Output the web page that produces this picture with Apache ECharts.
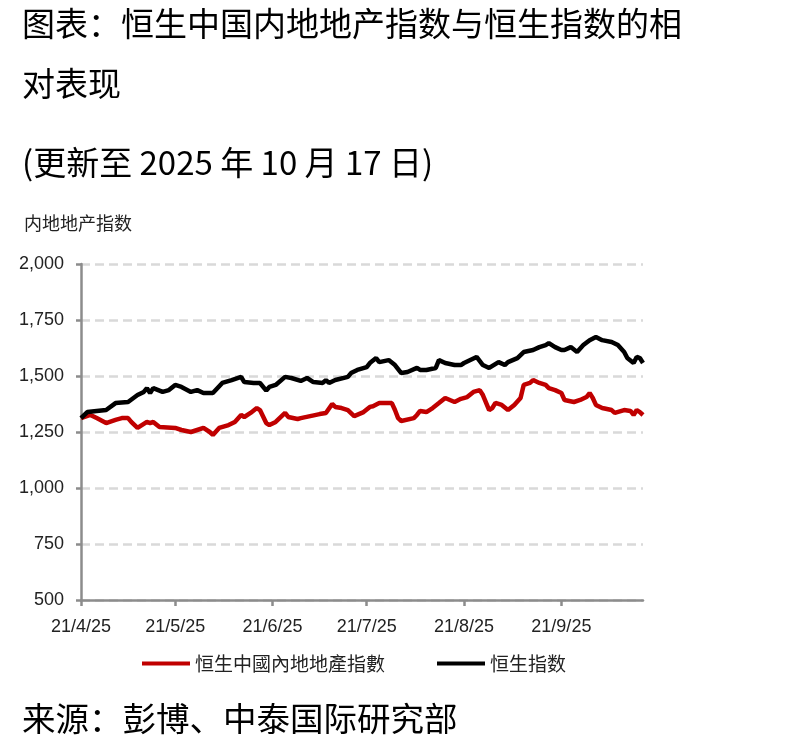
<!DOCTYPE html>
<html>
<head>
<meta charset="utf-8">
<style>
  body { margin: 0; background: #fff; }
  #main { width: 805px; height: 753px; }
</style>
</head>
<body>
<div id="main"></div>
<script src="https://cdn.jsdelivr.net/npm/echarts/dist/echarts.min.js"></script>
<script>
// 恒生中國內地地產指數
var propDates = ['04-21','04-24','04-26','04-29','05-02','05-04','05-06','05-07','05-09','05-12','05-13','05-14','05-16','05-21','05-23','05-26','05-28','05-30','06-01','06-02','06-04','06-07','06-09','06-11','06-12','06-14','06-16','06-17','06-19','06-20','06-22','06-25','06-26','06-29','06-30','07-03','07-06','07-08','07-10','07-11','07-13','07-15','07-17','07-20','07-22','07-23','07-25','07-29','07-30','07-31','08-01','08-05','08-06','08-07','08-09','08-11','08-13','08-15','08-18','08-20','08-22','08-24','08-26','08-27','08-29','08-30','08-31','09-02','09-04','09-06','09-08','09-09','09-11','09-12','09-14','09-16','09-17','09-19','09-21','09-22','09-25','09-27','09-29','09-30','10-01','10-02','10-04','10-07','10-08','10-11','10-13','10-14','10-15','10-16','10-17'];
var propValues = [1312,1326,1312,1290,1304,1312,1312,1295,1268,1295,1290,1295,1272,1268,1259,1250,1259,1268,1250,1237,1268,1281,1295,1326,1317,1335,1357,1348,1290,1281,1295,1335,1317,1308,1312,1321,1330,1335,1375,1362,1357,1348,1321,1339,1362,1365,1379,1379,1348,1312,1299,1312,1326,1344,1339,1357,1379,1402,1384,1398,1406,1429,1437,1415,1348,1357,1380,1371,1348,1371,1402,1460,1469,1482,1469,1460,1446,1437,1424,1393,1384,1393,1406,1424,1402,1371,1357,1348,1335,1348,1344,1326,1348,1339,1326];

// 恒生指数
var hsiDates = ['04-21','04-23','04-29','05-02','05-06','05-09','05-11','05-12','05-13','05-14','05-17','05-19','05-21','05-23','05-26','05-28','05-30','06-02','06-05','06-08','06-11','06-12','06-15','06-17','06-19','06-20','06-22','06-25','06-27','06-30','07-02','07-04','07-07','07-08','07-09','07-11','07-15','07-16','07-18','07-21','07-22','07-24','07-25','07-28','07-30','08-01','08-03','08-06','08-07','08-09','08-12','08-13','08-15','08-18','08-20','08-21','08-25','08-27','08-29','09-01','09-03','09-04','09-07','09-09','09-12','09-14','09-16','09-17','09-19','09-21','09-22','09-24','09-26','09-28','09-30','10-02','10-04','10-07','10-09','10-11','10-12','10-14','10-15','10-16','10-17'];
var hsiValues = [1312,1339,1348,1379,1384,1415,1429,1446,1424,1446,1429,1437,1460,1451,1429,1437,1424,1424,1469,1482,1496,1473,1469,1469,1435,1451,1460,1496,1491,1478,1491,1473,1469,1482,1469,1482,1496,1513,1527,1540,1558,1580,1562,1571,1549,1513,1518,1536,1527,1527,1536,1571,1558,1549,1549,1558,1585,1549,1536,1562,1549,1562,1580,1607,1616,1629,1638,1647,1629,1616,1616,1629,1607,1638,1660,1674,1660,1652,1638,1607,1580,1558,1585,1580,1558];

var yTicks = [500, 750, 1000, 1250, 1500, 1750, 2000];
var startDate = '2025-04-21';
var endDate = '2025-10-17';

// every calendar day on the axis, so the monthly ticks fall where they should
var days = [];
var d = new Date(startDate + 'T00:00:00Z');
var end = new Date(endDate + 'T00:00:00Z');
while (d <= end) {
  var mm = ('0' + (d.getUTCMonth() + 1)).slice(-2);
  var dd = ('0' + d.getUTCDate()).slice(-2);
  days.push(mm + '-' + dd);
  d.setUTCDate(d.getUTCDate() + 1);
}

function pairs(dates, vals) {
  return dates.map(function (t, i) { return [t, vals[i]]; });
}
function isTick(index, value) {
  return value.slice(3) === '21';
}

var cjk = '"Noto Sans CJK SC", "Noto Sans", sans-serif';
var num = '"Liberation Sans", Arial, sans-serif';

var myChart = echarts.init(document.getElementById('main'));
var option = {
  backgroundColor: '#fff',
  animation: false,
  graphic: [
    { type: 'text', x: 22, y: 23, style: { text: '图表：恒生中国内地地产指数与恒生指数的相', font: '33px ' + cjk, fill: '#000', verticalAlign: 'middle' } },
    { type: 'text', x: 22, y: 83, style: { text: '对表现', font: '33px ' + cjk, fill: '#000', verticalAlign: 'middle' } },
    { type: 'text', x: 22, y: 162, style: { text: '(更新至 2025 年 10 月 17 日)', font: '33px ' + cjk, fill: '#000', verticalAlign: 'middle' } },
    { type: 'text', x: 22, y: 718, style: { text: '来源：彭博、中泰国际研究部', font: '33.5px ' + cjk, fill: '#000', verticalAlign: 'middle' } }
  ],
  legend: {
    data: ['恒生中國內地地產指數', '恒生指数'],
    left: 137,
    top: 649,
    icon: 'rect',
    itemWidth: 48,
    itemHeight: 4,
    itemGap: 52,
    textStyle: { fontFamily: cjk, fontSize: 19, color: '#222' }
  },
  grid: { left: 81, right: 162, top: 264, bottom: 153, containLabel: false },
  xAxis: {
    type: 'category',
    data: days,
    boundaryGap: false,
    axisLine: { lineStyle: { color: '#8c8c8c', width: 2.5 } },
    axisTick: { show: true, interval: isTick, length: 6, lineStyle: { color: '#8c8c8c', width: 2.5 } },
    axisLabel: {
      interval: isTick,
      margin: 18,
      fontFamily: num,
      fontSize: 18,
      color: '#222',
      formatter: function (v) { return '21/' + parseInt(v.slice(0, 2), 10) + '/25'; }
    },
    splitLine: { show: false }
  },
  yAxis: {
    type: 'value',
    min: yTicks[0],
    max: yTicks[yTicks.length - 1],
    interval: yTicks[1] - yTicks[0],
    name: '内地地产指数',
    nameLocation: 'end',
    nameGap: 32,
    nameTextStyle: { fontFamily: cjk, fontSize: 18, color: '#222', align: 'center', padding: [0, 6, 0, 0] },
    axisLine: { show: true, lineStyle: { color: '#8c8c8c', width: 2.5 } },
    axisTick: { show: true, length: 5, lineStyle: { color: '#8c8c8c', width: 2.5 } },
    axisLabel: {
      margin: 17,
      fontFamily: num,
      fontSize: 18,
      color: '#222',
      formatter: function (v) { return v.toLocaleString('en-US'); }
    },
    splitLine: { show: true, lineStyle: { color: '#d9d9d9', width: 2.5, type: [9, 5] } }
  },
  series: [
    {
      name: '恒生中國內地地產指數',
      type: 'line',
      data: pairs(propDates, propValues),
      showSymbol: false,
      color: '#c00000',
      lineStyle: { width: 4.5, color: '#c00000' }
    },
    {
      name: '恒生指数',
      type: 'line',
      data: pairs(hsiDates, hsiValues),
      showSymbol: false,
      color: '#000',
      lineStyle: { width: 4.5, color: '#000' }
    }
  ]
};
myChart.setOption(option);
</script>
</body>
</html>
